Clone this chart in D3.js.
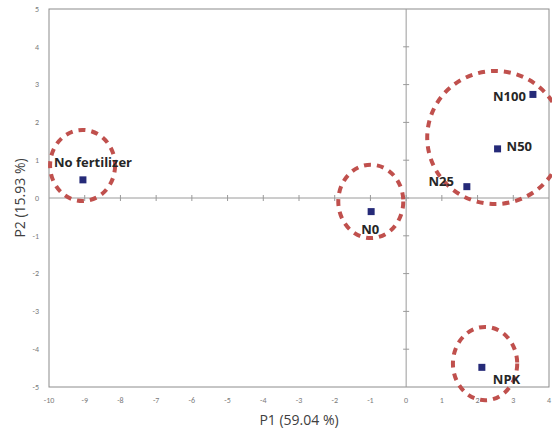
<!DOCTYPE html>
<html>
<head>
<meta charset="utf-8">
<script src="https://cdn.jsdelivr.net/npm/d3@7"></script>
<style>
  body { margin: 0; background: #fff; }
  svg { display: block; overflow: hidden; }
</style>
</head>
<body>
<div id="chart"></div>
<script>
// treatments and their PCA scores
var treatments = ['No fertilizer', 'N0', 'N25', 'N50', 'N100', 'NPK'];
var p1Scores = [-9.05, -0.98, 1.70, 2.56, 3.55, 2.12];
var p2Scores = [0.48, -0.36, 0.30, 1.30, 2.74, -4.48];

// grouping ellipses drawn over the plot (centre and radii in axis units)
var groupCx = [-9.06, -0.99, 2.49, 2.21];
var groupCy = [0.86, -0.09, 1.60, -4.38];
var groupRx = [0.91, 0.91, 1.90, 0.90];
var groupRy = [0.94, 0.97, 1.76, 0.97];

var xTicks = d3.range(-10, 5, 1);
var yTicks = d3.range(-5, 6, 1);

// where each label sits relative to its marker
var labelPlace = {
  'No fertilizer': {dx: -29, dy: -17, anchor: 'start'},
  'N0': {dx: -1, dy: 18, anchor: 'middle'},
  'N25': {dx: -13, dy: -5, anchor: 'end'},
  'N50': {dx: 9, dy: -2, anchor: 'start'},
  'N100': {dx: -7, dy: 2, anchor: 'end'},
  'NPK': {dx: 11, dy: 12, anchor: 'start'}
};

var W = 552, H = 429;
var margin = {top: 9, right: 3, bottom: 42, left: 49};

var svg = d3.select('#chart').append('svg')
    .attr('width', W)
    .attr('height', H);

var x = d3.scaleLinear().domain([-10, 4]).range([margin.left, W - margin.right]);
var y = d3.scaleLinear().domain([-5, 5]).range([H - margin.bottom, margin.top]);

// plot frame
svg.append('rect')
    .attr('x', x(-10))
    .attr('y', y(5))
    .attr('width', x(4) - x(-10))
    .attr('height', y(-5) - y(5))
    .attr('fill', 'none')
    .attr('stroke', '#8c8c8c')
    .attr('stroke-width', 1);

// zero axes with crossing ticks
var axisCol = '#9a9a9a';
svg.append('line')
    .attr('x1', x(-10)).attr('x2', x(4))
    .attr('y1', y(0)).attr('y2', y(0))
    .attr('stroke', axisCol);
svg.append('line')
    .attr('x1', x(0)).attr('x2', x(0))
    .attr('y1', y(5)).attr('y2', y(-5))
    .attr('stroke', axisCol);

svg.append('g').selectAll('line')
    .data(xTicks.filter(function(d) { return d > -10 && d < 4; }))
    .enter().append('line')
    .attr('x1', function(d) { return x(d); })
    .attr('x2', function(d) { return x(d); })
    .attr('y1', y(0) - 3)
    .attr('y2', y(0) + 3)
    .attr('stroke', axisCol);

svg.append('g').selectAll('line')
    .data(yTicks.filter(function(d) { return d > -5 && d < 5; }))
    .enter().append('line')
    .attr('x1', x(0) - 3)
    .attr('x2', x(0) + 3)
    .attr('y1', function(d) { return y(d); })
    .attr('y2', function(d) { return y(d); })
    .attr('stroke', axisCol);

// tick labels along the frame
var tickFont = {family: 'Calibri, Carlito, "Open Sans", sans-serif', size: 8, fill: '#7a7a7a'};
svg.append('g').selectAll('text')
    .data(xTicks)
    .enter().append('text')
    .attr('x', function(d) { return x(d); })
    .attr('y', y(-5) + 16)
    .attr('text-anchor', 'middle')
    .attr('font-family', tickFont.family)
    .attr('font-size', tickFont.size)
    .attr('fill', tickFont.fill)
    .text(function(d) { return d; });

svg.append('g').selectAll('text')
    .data(yTicks)
    .enter().append('text')
    .attr('x', x(-10) - 10)
    .attr('y', function(d) { return y(d); })
    .attr('dy', '0.35em')
    .attr('text-anchor', 'end')
    .attr('font-family', tickFont.family)
    .attr('font-size', tickFont.size)
    .attr('fill', tickFont.fill)
    .text(function(d) { return d; });

// axis titles
svg.append('text')
    .attr('x', (x(-10) + x(4)) / 2)
    .attr('y', H - 4)
    .attr('text-anchor', 'middle')
    .attr('font-family', '"Open Sans", sans-serif')
    .attr('font-size', 14)
    .attr('fill', '#404040')
    .text('P1 (59.04 %)');

svg.append('text')
    .attr('transform', 'translate(25,' + y(0) + ') rotate(-90)')
    .attr('text-anchor', 'middle')
    .attr('font-family', '"Open Sans", sans-serif')
    .attr('font-size', 14)
    .attr('fill', '#404040')
    .text('P2 (15.93 %)');

// group ellipses
svg.append('g').selectAll('ellipse')
    .data(groupCx)
    .enter().append('ellipse')
    .attr('cx', function(d) { return x(d); })
    .attr('cy', function(d, i) { return y(groupCy[i]); })
    .attr('rx', function(d, i) { return x(groupRx[i]) - x(0); })
    .attr('ry', function(d, i) { return y(0) - y(groupRy[i]); })
    .attr('fill', 'none')
    .attr('stroke', '#c0504d')
    .attr('stroke-width', 4)
    .attr('stroke-dasharray', '7,6');

// markers
var pts = treatments.map(function(t, i) {
  return {name: t, p1: p1Scores[i], p2: p2Scores[i]};
});

svg.append('g').selectAll('rect')
    .data(pts)
    .enter().append('rect')
    .attr('x', function(d) { return x(d.p1) - 3.5; })
    .attr('y', function(d) { return y(d.p2) - 3.5; })
    .attr('width', 7)
    .attr('height', 7)
    .attr('fill', '#252a78');

svg.append('g').selectAll('text')
    .data(pts)
    .enter().append('text')
    .attr('x', function(d) { return x(d.p1) + labelPlace[d.name].dx; })
    .attr('y', function(d) { return y(d.p2) + labelPlace[d.name].dy; })
    .attr('dy', '0.35em')
    .attr('text-anchor', function(d) { return labelPlace[d.name].anchor; })
    .attr('font-family', '"Open Sans", sans-serif')
    .attr('font-weight', 'bold')
    .attr('font-size', 13)
    .attr('fill', '#262626')
    .text(function(d) { return d.name; });
</script>
</body>
</html>
